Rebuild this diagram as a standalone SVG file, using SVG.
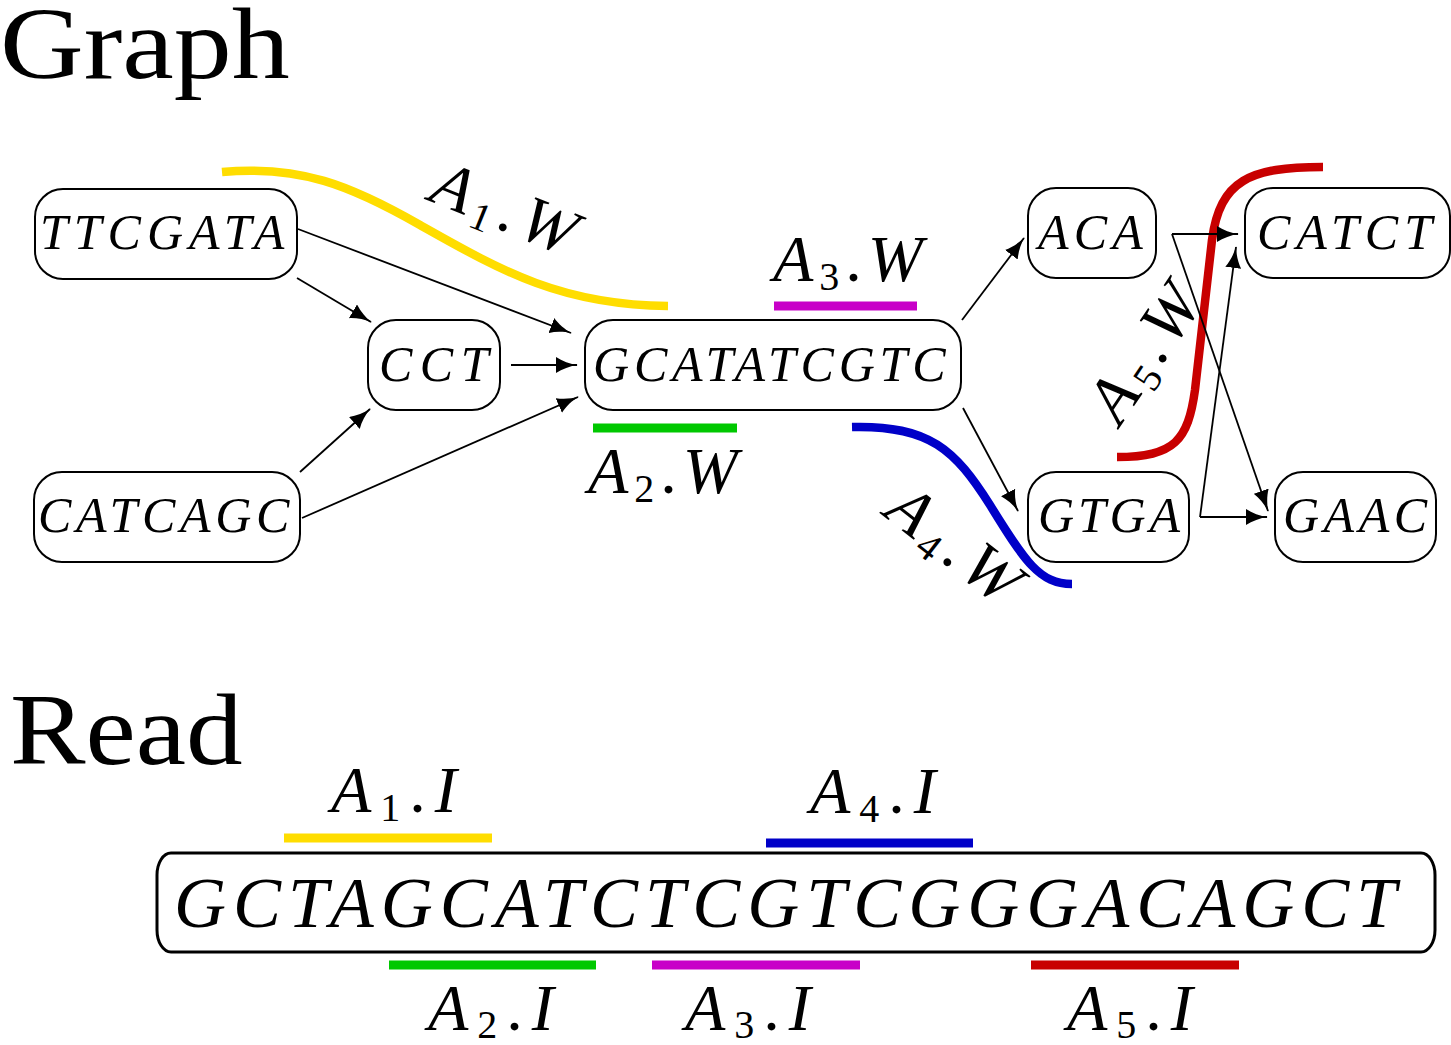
<svg xmlns="http://www.w3.org/2000/svg" width="1451" height="1045" viewBox="0 0 1451 1045">
<defs>
<marker id="ah" markerUnits="userSpaceOnUse" markerWidth="22" markerHeight="16" refX="21" refY="8" orient="auto">
<path d="M0,0 C6,4 14,7 22,8 C14,9 6,12 0,16 Z" fill="#000"/>
</marker>
</defs>
<rect width="1451" height="1045" fill="#fff"/>
<text x="0" y="0" font-size="102" font-family="Liberation Serif" transform="translate(0,78) scale(1.137,1)">Graph</text>
<text x="0" y="0" font-size="102" font-family="Liberation Serif" transform="translate(10,764) scale(1.11,1)">Read</text>

<g id="highlights" fill="none">
<path stroke-width="8.5" stroke="#FFDD00" d="M222,172 C300,165 350,185 420,225 C500,270 560,305 668,306"/>
<path stroke-width="8.5" stroke="#0000C8" d="M852,427 C930,425 955,450 990,505 C1025,562 1040,584 1072,584"/>
<path stroke-width="8.5" stroke="#C80000" d="M1117,457 C1175,457 1188,440 1195,390 L1212,240 C1220,180 1250,167 1323,167"/>
<line stroke-width="9" stroke="#C800C8" x1="774" y1="306" x2="917" y2="306"/>
<line stroke-width="9" stroke="#00C800" x1="593" y1="428" x2="737" y2="428"/>
</g>

<g id="connectors" stroke="#000" stroke-width="1.8" fill="none">
<line marker-end="url(#ah)" x1="298" y1="229" x2="571" y2="333"/>
<line marker-end="url(#ah)" x1="297" y1="278" x2="371" y2="322"/>
<line marker-end="url(#ah)" x1="511" y1="365" x2="577" y2="365"/>
<line marker-end="url(#ah)" x1="300" y1="472" x2="370" y2="409"/>
<line marker-end="url(#ah)" x1="302" y1="518" x2="578" y2="397"/>
<line marker-end="url(#ah)" x1="962" y1="320" x2="1024" y2="238"/>
<line marker-end="url(#ah)" x1="963" y1="408" x2="1018" y2="511"/>
<line marker-end="url(#ah)" x1="1172" y1="234" x2="1238" y2="234"/>
<line marker-end="url(#ah)" x1="1172" y1="234" x2="1268" y2="511"/>
<line marker-end="url(#ah)" x1="1200" y1="517" x2="1267" y2="517"/>
<line marker-end="url(#ah)" x1="1200" y1="517" x2="1236" y2="247"/>
</g>

<g id="n-ttcgata"><rect x="35" y="189" width="262" height="90" rx="28" fill="#fff" stroke="#000" stroke-width="2"/><text font-family="Liberation Serif" font-style="italic" font-size="50" x="40" y="249" letter-spacing="6">TTCGATA</text></g>
<g id="n-cct"><rect x="368" y="320" width="132" height="90" rx="28" fill="#fff" stroke="#000" stroke-width="2"/><text font-family="Liberation Serif" font-style="italic" font-size="50" x="379" y="381" letter-spacing="7.5">CCT</text></g>
<g id="n-catcagc"><rect x="34" y="472" width="266" height="90" rx="28" fill="#fff" stroke="#000" stroke-width="2"/><text font-family="Liberation Serif" font-style="italic" font-size="50" x="38" y="532" letter-spacing="4.7">CATCAGC</text></g>
<g id="n-gcatatcgtc"><rect x="585" y="320" width="376" height="90" rx="28" fill="#fff" stroke="#000" stroke-width="2"/><text font-family="Liberation Serif" font-style="italic" font-size="50" x="593" y="381" letter-spacing="4.8">GCATATCGTC</text></g>
<g id="n-aca"><rect x="1028" y="188" width="128" height="90" rx="28" fill="#fff" stroke="#000" stroke-width="2"/><text font-family="Liberation Serif" font-style="italic" font-size="50" x="1038" y="249" letter-spacing="5.2">ACA</text></g>
<g id="n-catct"><rect x="1245" y="188" width="205" height="90" rx="28" fill="#fff" stroke="#000" stroke-width="2"/><text font-family="Liberation Serif" font-style="italic" font-size="50" x="1257" y="249" letter-spacing="6">CATCT</text></g>
<g id="n-gtga"><rect x="1028" y="472" width="161" height="90" rx="28" fill="#fff" stroke="#000" stroke-width="2"/><text font-family="Liberation Serif" font-style="italic" font-size="50" x="1038" y="532" letter-spacing="3.8">GTGA</text></g>
<g id="n-gaac"><rect x="1275" y="472" width="161" height="90" rx="28" fill="#fff" stroke="#000" stroke-width="2"/><text font-family="Liberation Serif" font-style="italic" font-size="50" x="1283" y="532" letter-spacing="4.5">GAAC</text></g>

<g id="labels-w">
<text font-family="Liberation Serif" font-style="italic" font-size="66" letter-spacing="6" transform="translate(427,200) rotate(22)">A<tspan font-style="normal" font-size="40" dy="9">1</tspan><tspan font-style="normal" dy="-9">.</tspan>W</text>
<text font-family="Liberation Serif" font-style="italic" font-size="66" letter-spacing="6" x="588" y="493">A<tspan font-style="normal" font-size="40" dy="9">2</tspan><tspan font-style="normal" dy="-9">.</tspan>W</text>
<text font-family="Liberation Serif" font-style="italic" font-size="66" letter-spacing="6" x="773" y="281">A<tspan font-style="normal" font-size="40" dy="9">3</tspan><tspan font-style="normal" dy="-9">.</tspan>W</text>
<text font-family="Liberation Serif" font-style="italic" font-size="66" letter-spacing="6" transform="translate(882,515) rotate(38)">A<tspan font-style="normal" font-size="40" dy="9">4</tspan><tspan font-style="normal" dy="-9">.</tspan>W</text>
<text font-family="Liberation Serif" font-style="italic" font-size="66" letter-spacing="6" transform="translate(1120,427) rotate(-56)">A<tspan font-style="normal" font-size="40" dy="9">5</tspan><tspan font-style="normal" dy="-9">.</tspan>W</text>
</g>

<g id="read">
<rect x="157" y="853" width="1278" height="99" rx="14" ry="22" fill="#fff" stroke="#000" stroke-width="3"/>
<text font-family="Liberation Serif" font-style="italic" font-size="72" letter-spacing="7" x="174" y="927">GCTAGCATCTCGTCGGGACAGCT</text>
<line stroke-width="9" stroke="#FFDD00" x1="284" y1="838" x2="492" y2="838"/>
<line stroke-width="9" stroke="#0000C8" x1="766" y1="843" x2="973" y2="843"/>
<line stroke-width="9" stroke="#00C800" x1="389" y1="965" x2="596" y2="965"/>
<line stroke-width="9" stroke="#C800C8" x1="652" y1="965" x2="860" y2="965"/>
<line stroke-width="9" stroke="#C80000" x1="1031" y1="965" x2="1239" y2="965"/>
<text font-family="Liberation Serif" font-style="italic" font-size="66" letter-spacing="9" x="331" y="812">A<tspan font-style="normal" font-size="40" dy="9">1</tspan><tspan font-style="normal" dy="-9">.</tspan>I</text>
<text font-family="Liberation Serif" font-style="italic" font-size="66" letter-spacing="9" x="810" y="813">A<tspan font-style="normal" font-size="40" dy="9">4</tspan><tspan font-style="normal" dy="-9">.</tspan>I</text>
<text font-family="Liberation Serif" font-style="italic" font-size="66" letter-spacing="9" x="428" y="1030">A<tspan font-style="normal" font-size="40" dy="8">2</tspan><tspan font-style="normal" dy="-8">.</tspan>I</text>
<text font-family="Liberation Serif" font-style="italic" font-size="66" letter-spacing="9" x="685" y="1030">A<tspan font-style="normal" font-size="40" dy="8">3</tspan><tspan font-style="normal" dy="-8">.</tspan>I</text>
<text font-family="Liberation Serif" font-style="italic" font-size="66" letter-spacing="9" x="1067" y="1030">A<tspan font-style="normal" font-size="40" dy="8">5</tspan><tspan font-style="normal" dy="-8">.</tspan>I</text>
</g>
</svg>
